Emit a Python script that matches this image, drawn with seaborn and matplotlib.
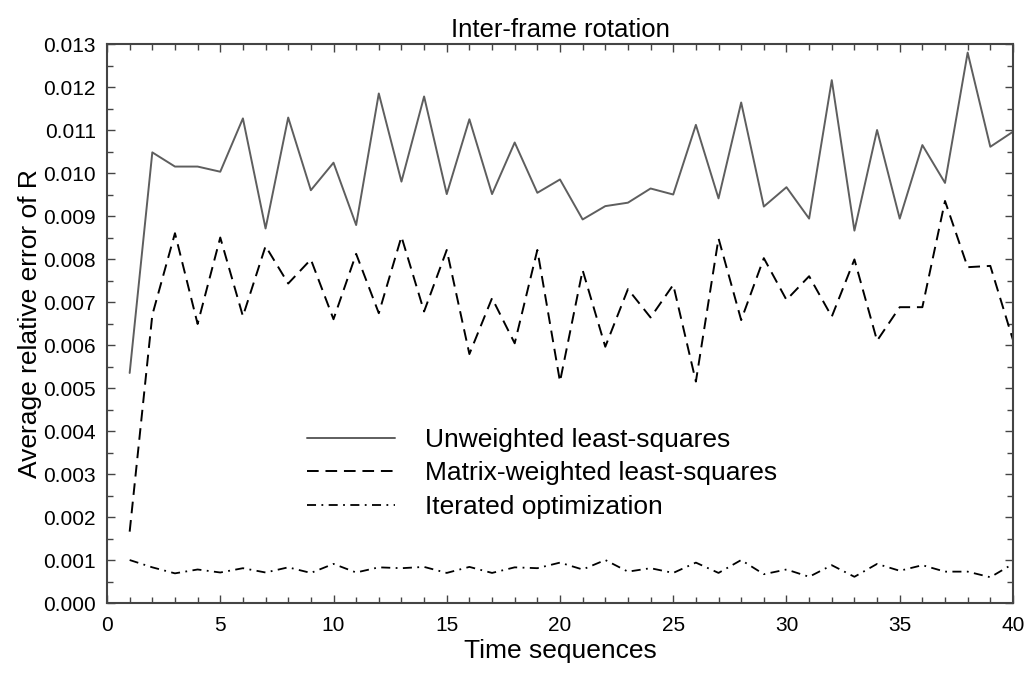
import numpy as np
import pandas as pd
import matplotlib
matplotlib.use("Agg")
import matplotlib.pyplot as plt
import seaborn as sns
from matplotlib.ticker import MultipleLocator, FormatStrFormatter

sns.set_style("ticks", {"text.color": "black", "axes.labelcolor": "black",
                        "xtick.color": "#333333", "ytick.color": "#333333"})
plt.rcParams['font.family'] = ['Liberation Sans', 'DejaVu Sans']

seq = list(range(1, 41))
unweighted = [0.00535, 0.01048, 0.01015, 0.01015, 0.01003, 0.01127, 0.00871, 0.01129, 0.00960, 0.01024,
              0.00879, 0.01185, 0.00980, 0.01178, 0.00951, 0.01125, 0.00951, 0.01071, 0.00954, 0.00985,
              0.00892, 0.00923, 0.00931, 0.00964, 0.00950, 0.01112, 0.00941, 0.01164, 0.00922, 0.00967,
              0.00894, 0.01216, 0.00866, 0.01100, 0.00894, 0.01065, 0.00977, 0.01280, 0.01061, 0.01096]
matrix_weighted = [0.00166, 0.00670, 0.00860, 0.00649, 0.00850, 0.00667, 0.00830, 0.00743, 0.00799, 0.00660,
                   0.00812, 0.00674, 0.00852, 0.00678, 0.00821, 0.00579, 0.00709, 0.00604, 0.00821, 0.00515,
                   0.00774, 0.00596, 0.00730, 0.00664, 0.00740, 0.00515, 0.00848, 0.00658, 0.00802, 0.00705,
                   0.00760, 0.00666, 0.00799, 0.00610, 0.00688, 0.00688, 0.00935, 0.00781, 0.00784, 0.00612]
iterated = [0.00100, 0.00083, 0.00069, 0.00078, 0.00071, 0.00081, 0.00071, 0.00083, 0.00070, 0.00091,
            0.00071, 0.00083, 0.00081, 0.00084, 0.00070, 0.00084, 0.00070, 0.00083, 0.00081, 0.00094,
            0.00078, 0.00100, 0.00073, 0.00081, 0.00070, 0.00094, 0.00070, 0.00100, 0.00067, 0.00078,
            0.00061, 0.00088, 0.00061, 0.00091, 0.00075, 0.00088, 0.00073, 0.00073, 0.00060, 0.00091]

labels = ["Unweighted least-squares", "Matrix-weighted least-squares", "Iterated optimization"]

fig = plt.figure(figsize=(10.31, 6.74), dpi=100)
ax = fig.add_axes([0.1038, 0.1053, 0.8787, 0.8294])

styles = [
    dict(color="#5e5e5e", lw=1.4, ls="-"),
    dict(color="black", lw=1.4, ls=(0, (6, 3.5))),
    dict(color="black", lw=1.3, ls=(0, (5, 3, 1, 3))),
]
for vals, lab, st in zip([unweighted, matrix_weighted, iterated], labels, styles):
    df = pd.DataFrame({"t": seq, "v": vals})
    sns.lineplot(data=df, x="t", y="v", ax=ax, label=lab, color=st["color"],
                 linewidth=st["lw"], linestyle=st["ls"])

ax.set_xlim(0, 40)
ax.set_ylim(0, 0.013)
ax.xaxis.set_major_locator(MultipleLocator(5))
ax.xaxis.set_minor_locator(MultipleLocator(1))
ax.yaxis.set_major_locator(MultipleLocator(0.001))
ax.yaxis.set_minor_locator(MultipleLocator(0.0005))
ax.yaxis.set_major_formatter(FormatStrFormatter("%.3f"))
ax.tick_params(which="both", direction="in", top=True, right=True, labelsize=15,
               color="#444444", labelcolor="black")
ax.tick_params(which="major", length=6, width=1)
ax.tick_params(which="minor", length=4, width=1)
ax.tick_params(axis="x", pad=9)
ax.tick_params(axis="y", pad=8)
for sp in ax.spines.values():
    sp.set_linewidth(1.5)
    sp.set_color("#444444")

ax.set_title("Inter-frame rotation", fontsize=18.5, pad=5, color="black")
ax.set_xlabel("Time sequences", fontsize=19, labelpad=3, color="black")
ax.set_ylabel("Average relative error of R", fontsize=19, labelpad=1, color="black")

leg = ax.legend(loc="center left", bbox_to_anchor=(0.195, 0.232), frameon=False,
                fontsize=19, handlelength=3.3, handletextpad=1.15, labelspacing=0.36)
for t in leg.get_texts():
    t.set_color("black")

fig.savefig("out.png", dpi=100)
